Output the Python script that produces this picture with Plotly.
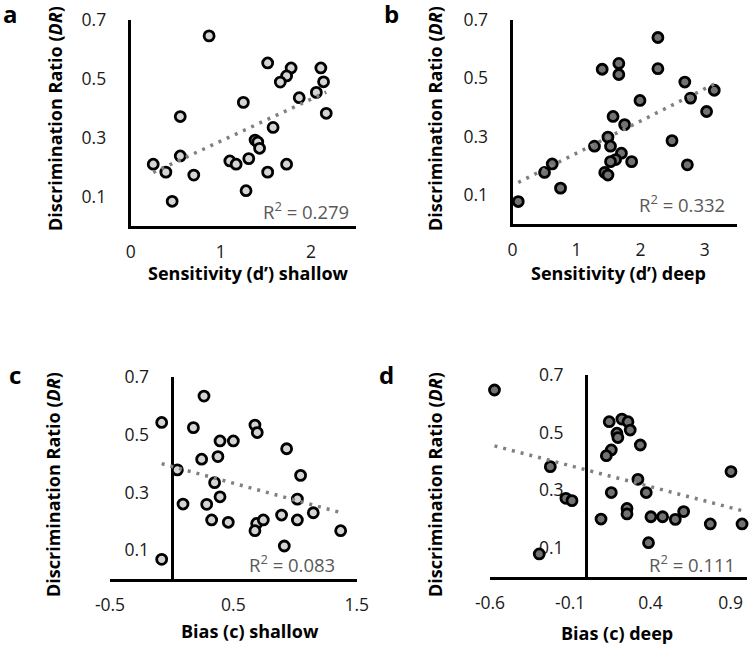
import numpy as np
import plotly.graph_objects as go

# ---------------- data ----------------
a_x = [0.87, 1.52, 1.78, 1.73, 1.66, 2.11, 2.14, 2.06, 1.87, 2.17, 1.25, 0.55, 1.58, 1.38,
       1.41, 1.43, 0.55, 0.25, 0.39, 0.70, 0.46, 1.10, 1.17, 1.31, 1.52, 1.73, 1.28]
a_y = [0.646, 0.554, 0.537, 0.51, 0.489, 0.537, 0.49, 0.454, 0.436, 0.383, 0.42, 0.372, 0.335, 0.292,
       0.285, 0.264, 0.238, 0.21, 0.183, 0.173, 0.084, 0.221, 0.21, 0.229, 0.183, 0.21, 0.12]

b_x = [2.27, 2.27, 1.40, 1.66, 1.66, 2.69, 3.15, 2.78, 1.99, 3.03, 1.57, 1.75, 1.49, 1.53,
       1.28, 2.49, 1.70, 1.61, 1.53, 1.86, 2.73, 0.62, 0.50, 1.44, 1.49, 0.75, 0.09]
b_y = [0.64, 0.533, 0.531, 0.551, 0.513, 0.487, 0.459, 0.432, 0.424, 0.386, 0.369, 0.341, 0.298, 0.267,
       0.267, 0.286, 0.243, 0.221, 0.214, 0.214, 0.203, 0.206, 0.177, 0.177, 0.168, 0.123, 0.077]

c_x = [0.262, -0.081, 0.176, 0.675, 0.694, 0.392, 0.50, 0.932, 0.243, 0.375, 0.046, 1.045, 0.348, 0.392,
       1.019, 0.092, 0.284, 1.148, 0.891, 0.324, 0.459, 0.689, 0.743, 1.019, 0.675, 1.37, 0.913, -0.081]
c_y = [0.633, 0.542, 0.524, 0.533, 0.507, 0.478, 0.478, 0.451, 0.415, 0.424, 0.378, 0.359, 0.334, 0.285,
       0.277, 0.26, 0.259, 0.23, 0.222, 0.205, 0.197, 0.193, 0.205, 0.205, 0.168, 0.168, 0.115, 0.069]

d_x = [-0.572, 0.143, 0.222, 0.26, 0.274, 0.191, 0.197, 0.337, 0.156, 0.125, -0.224, 0.902, 0.322, 0.156,
       0.374, -0.127, -0.089, 0.254, 0.254, 0.092, 0.403, 0.476, 0.555, 0.607, 0.773, 0.971, 0.388, -0.293]
d_y = [0.648, 0.538, 0.547, 0.538, 0.509, 0.498, 0.483, 0.457, 0.44, 0.42, 0.382, 0.365, 0.338, 0.292,
       0.292, 0.272, 0.264, 0.237, 0.218, 0.2, 0.208, 0.208, 0.199, 0.226, 0.183, 0.183, 0.118, 0.079]

panel_letters = ["a", "b", "c", "d"]
x_titles = ["Sensitivity (d\u2019) shallow", "Sensitivity (d\u2019) deep", "Bias (c) shallow", "Bias (c) deep"]
y_title = "Discrimination Ratio (<i>DR</i>)"
r2_labels = ["0.279", "0.332", "0.083", "0.111"]
y_ticks = [0.1, 0.3, 0.5, 0.7]
x_ticks = [[0, 1, 2], [0, 1, 2, 3], [-0.5, 0.5, 1.5], [-0.6, -0.1, 0.4, 0.9]]
x_ranges = [[0, 2.5], [0, 3.5], [-0.5, 1.5], [-0.6, 1.0]]

# ---------------- layout helpers ----------------
W, H = 749, 645
FONT = "Open Sans"
px_x = lambda v: v / W
px_y = lambda v: 1 - v / H

panels = [
    dict(x=a_x, y=a_y, fill="#d4d4d4", xd=[130.7, 356], yd=[226, 20], ypos=None),
    dict(x=b_x, y=b_y, fill="#727272", xd=[512.5, 736.7], yd=[224, 20], ypos=None),
    dict(x=c_x, y=c_y, fill="#d4d4d4", xd=[110, 356.7], yd=[579.3, 376.7], ypos=171.5),
    dict(x=d_x, y=d_y, fill="#727272", xd=[490, 746.7], yd=[576.7, 375], ypos=586),
]
letter_pos = [(10, 13), (391, 13), (15, 374), (386, 374)]
ytitle_pos = [(55, 119), (435, 119), (53, 485), (435, 485)]
xtitle_pos = [(248.5, 273), (618, 273), (250, 631), (616.7, 633)]
r2_pos = [(351, 210), (727, 204), (337, 563), (737, 563)]

fig = go.Figure()
layout = dict(
    width=W, height=H, margin=dict(l=0, r=0, t=0, b=0, pad=0, autoexpand=False),
    autosize=False,
    paper_bgcolor="white", plot_bgcolor="white", showlegend=False,
    font=dict(family=FONT, color="black", size=18),
)
annotations = []

def ann(text, x, y, size, color="black", xanchor="center", angle=0):
    return dict(text=text, x=px_x(x), y=px_y(y), xref="paper", yref="paper",
                xanchor=xanchor, yanchor="middle", textangle=angle, showarrow=False,
                font=dict(size=size, family=FONT, color=color))

for i, p in enumerate(panels):
    n = "" if i == 0 else str(i + 1)
    xa, ya = "x" + n, "y" + n
    x = np.array(p["x"]); y = np.array(p["y"])
    fig.add_trace(go.Scatter(
        x=p["x"], y=p["y"], mode="markers", xaxis=xa, yaxis=ya, cliponaxis=False,
        marker=dict(size=10, color=p["fill"], line=dict(color="black", width=2.8)),
    ))
    k, b0 = np.polyfit(x, y, 1)
    xs = [float(x.min()), float(x.max())]
    fig.add_trace(go.Scatter(
        x=xs, y=[k * v + b0 for v in xs], mode="lines", xaxis=xa, yaxis=ya, cliponaxis=False,
        line=dict(color="#808080", width=3.5, dash="3px,6px"),
    ))
    xdom = [px_x(p["xd"][0]), px_x(p["xd"][1])]
    ydom = [px_y(p["yd"][0]), px_y(p["yd"][1])]
    yaxis = dict(
        domain=ydom, range=[0, 0.7], tickvals=y_ticks, ticktext=[str(t) for t in y_ticks],
        showgrid=False, zeroline=False, showline=True, linecolor="black", linewidth=3,
        ticks="", ticklabelstandoff=18, tickfont=dict(size=17.5, family=FONT, color="#1a1a1a"),
        layer="below traces", automargin=False,
    )
    if p["ypos"] is None:
        yaxis["anchor"] = xa
    else:
        yaxis["anchor"] = "free"
        yaxis["position"] = px_x(p["ypos"])
    xaxis = dict(
        domain=xdom, range=x_ranges[i], tickvals=x_ticks[i],
        ticktext=[("%g" % t) for t in x_ticks[i]], anchor=ya,
        showgrid=False, zeroline=False, showline=True, linecolor="black", linewidth=3,
        ticks="", ticklabelstandoff=8, tickfont=dict(size=17.5, family=FONT, color="#1a1a1a"),
        layer="below traces", automargin=False,
    )
    layout["xaxis" + n] = xaxis
    layout["yaxis" + n] = yaxis

    lx, ly = letter_pos[i]
    annotations.append(ann("<b>%s</b>" % panel_letters[i], lx, ly, 24))
    tx, ty = ytitle_pos[i]
    annotations.append(ann("<b>%s</b>" % y_title, tx, ty, 18, angle=-90))
    tx, ty = xtitle_pos[i]
    annotations.append(ann("<b>%s</b>" % x_titles[i], tx, ty, 18))
    rx, ry = r2_pos[i]
    annotations.append(ann("R<sup>2</sup> = %s" % r2_labels[i], rx, ry, 18.5,
                           color="#595959", xanchor="right"))

layout["annotations"] = annotations
fig.update_layout(**layout)
fig.write_html("out.html", config={"displayModeBar": False},
               post_script="document.body.style.margin='0';document.body.style.overflow='hidden';")
